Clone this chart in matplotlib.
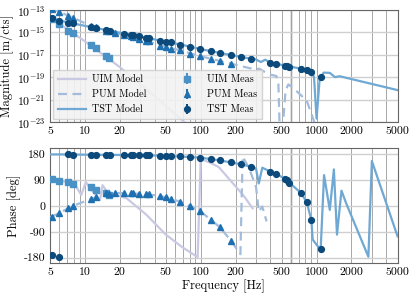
import numpy as np
import matplotlib
matplotlib.use("Agg")
import matplotlib.pyplot as plt
from matplotlib.ticker import NullFormatter, LogLocator

plt.rcParams['font.family'] = ['cmr10', 'DejaVu Serif']
plt.rcParams['mathtext.fontset'] = 'cm'
plt.rcParams['axes.unicode_minus'] = False
plt.rcParams['axes.formatter.use_mathtext'] = True

# ---------------- data ----------------
# Models: magnitude (log10 m/cts)
uim_mod_f = [5, 10, 20, 40, 80, 100]
uim_mod_mag = [-13.65, -15.8, -18.1, -20.7, -23.4, -24.2]

pum_mod_f = [5, 6, 7.2, 8, 11.2, 15, 20, 30, 44, 66, 98, 147, 183, 230, 264, 300, 320, 345, 394, 450, 468, 480, 510, 540, 570, 625, 822, 925, 990]
pum_mod_mag = [-12.8, -13.15, -13.52, -13.72, -14.42, -14.85, -15.15, -15.58, -16.15, -16.6, -17.12, -17.56, -17.8, -18.05, -18.2, -18.3, -18.25, -18.45, -18.77, -18.9, -19.6, -23.5, -23.5, -20.2, -19.65, -19.95, -21.1, -22.6, -23.5]

tst_mod_f = [5, 7, 10, 15, 20, 30, 50, 70, 100, 150, 200, 270, 300, 330, 360, 400, 550, 730, 900, 950, 1000, 1060, 1150, 1300, 1440, 1580, 1800, 5000]
tst_mod_mag = [-13.68, -14.1, -14.42, -14.78, -15.03, -15.38, -15.83, -16.13, -16.5, -16.86, -17.1, -17.36, -17.42, -17.65, -17.45, -17.7, -18.0, -18.24, -18.45, -19.0, -22.7, -19.3, -18.6, -18.62, -19.0, -18.92, -19.06, -20.16]

# Models: phase (deg)
uim_ph_f = [5, 7, 8.2, 9.3, 10.2, 11.1, 13.5, 14.2, 16, 20, 23, 34, 50, 70, 94, 100, 118, 143, 190, 232, 280]
uim_ph = [92, 84, 75, 38, 83, 61, 20, 72, 42, 34, 26, -31, -100, -145, -178, 163, 152, 135, 78, 38, -8]

pum_ph_f = [5, 6, 7.2, 8, 11, 15, 20, 30, 40, 50, 66, 80, 98, 122, 147, 183, 220, 230, 262, 300, 317, 340, 370]
pum_ph = [-40, -25, -8, 1, 22, 42, 45, 42, 37, 30, 15, 0, -17, -48, -75, -122, -168, 172, 130, 66, -20, -2, -54]

tst_ph_f = [5, 7, 10, 20, 35, 50, 66, 80, 98, 122, 147, 183, 222, 272, 300, 317, 340, 399, 450, 535, 580, 729, 822, 902, 925, 1030, 1085, 1160, 1300, 1410, 1500, 1640, 1800, 2800, 3000, 5000]
tst_ph = [179, 179, 178, 177, 176, 174, 172, 170, 168, 163, 158, 151, 145, 136, 130, 78, 133, 119, 111, 94, 81, 46, 13, -50, -117, -142, -149, 107, -14, 127, -100, 53, 9, -177, 156, -106]

# Measurements
uim_meas_f = [5.23, 6.0, 7.2, 7.85, 11.2, 12.4, 15.2, 16.0]
uim_meas_mag = [-13.8, -14.24, -14.84, -15.07, -16.1, -16.4, -17.14, -17.29]
uim_meas_ph = [92, 87, 82, 76, 67, 55, 45, 38]

pum_meas_f = [5.23, 6.0, 7.2, 7.85, 11.2, 12.4, 15.2, 16.0, 18.2, 21.8, 24.8, 26.2, 29.5, 34, 35.5, 44.4, 50, 55, 66, 80, 98, 122, 147, 183]
pum_meas_mag = [-12.9, -13.18, -13.55, -13.7, -14.45, -14.55, -14.85, -14.92, -15.04, -15.22, -15.34, -15.4, -15.6, -15.75, -15.8, -16.2, -16.35, -16.45, -16.6, -16.9, -17.14, -17.38, -17.58, -17.79]
pum_meas_ph = [-39, -25, -8, 0, 23, 30, 44, 43, 44, 44, 44, 44, 41, 40, 40, 34, 30, 25, 15, 0, -17, -49, -75, -123]

tst_meas_f = [5.23, 6.0, 7.2, 7.85, 11.2, 12.4, 15.2, 16.5, 21.8, 24.8, 26.2, 29.5, 34, 35.5, 44.4, 50, 55, 66, 80, 98, 122, 147, 183, 222, 272, 399, 450, 535, 555, 580, 729, 822, 902, 1085]
tst_meas_mag = [-13.75, -14.03, -14.13, -14.18, -14.52, -14.6, -14.78, -14.85, -15.12, -15.2, -15.28, -15.37, -15.5, -15.55, -15.75, -15.82, -15.9, -16.1, -16.3, -16.5, -16.68, -16.84, -17.04, -17.2, -17.36, -17.7, -17.8, -17.97, -18.0, -18.08, -18.24, -18.32, -18.5, -19.0]
tst_meas_ph = [-172, -177, 179, 178, 178, 178, 178, 178, 177, 177, 177, 176, 176, 176, 175, 174, 174, 172, 170, 168, 163, 158, 151, 145, 136, 119, 111, 94, 90, 81, 46, 13, -50, -149]

xticks = [5, 10, 20, 50, 100, 200, 500, 1000, 2000, 5000]
xticklabels = ['5', '10', '20', '50', '100', '200', '500', '1000', '2000', '5000']
mag_ticks = [1e-13, 1e-15, 1e-17, 1e-19, 1e-21, 1e-23]
mag_ticklabels = [r'$10^{-13}$', r'$10^{-15}$', r'$10^{-17}$', r'$10^{-19}$', r'$10^{-21}$', r'$10^{-23}$']
ph_ticks = [-180, -90, 0, 90, 180]
ph_ticklabels = ['-180', '-90', '0', '90', '180']

# ---------------- style ----------------
c_uim_mod = '#c9c9e3'
c_pum_mod = '#a3bcdc'
c_tst_mod = '#6fa8d3'
c_uim_meas = '#4a92c6'
c_pum_meas = '#1f70b0'
c_tst_meas = '#0b4a7a'

fig = plt.figure(figsize=(4.15, 3.01), dpi=100)
ax1 = fig.add_axes([0.1205, 0.595, 0.8375, 0.372])
ax2 = fig.add_axes([0.1205, 0.125, 0.8375, 0.382])

def p10(a):
    return 10.0 ** np.asarray(a, dtype=float)

lw = 1.6
ms = 4.2
ax1.plot(uim_mod_f, p10(uim_mod_mag), color=c_uim_mod, lw=lw, label='UIM Model', zorder=3)
ax1.plot(pum_mod_f, p10(pum_mod_mag), color=c_pum_mod, lw=lw, ls=(0, (4, 2.5)), label='PUM Model', zorder=3)
ax1.plot(tst_mod_f, p10(tst_mod_mag), color=c_tst_mod, lw=lw, label='TST Model', zorder=3)
ax1.errorbar(uim_meas_f, p10(uim_meas_mag), yerr=np.zeros(len(uim_meas_f)), fmt='s', ms=ms, color=c_uim_meas, label='UIM Meas', zorder=4)
ax1.errorbar(pum_meas_f, p10(pum_meas_mag), yerr=np.zeros(len(pum_meas_f)), fmt='^', ms=ms, color=c_pum_meas, label='PUM Meas', zorder=4)
ax1.errorbar(tst_meas_f, p10(tst_meas_mag), yerr=np.zeros(len(tst_meas_f)), fmt='o', ms=ms, color=c_tst_meas, label='TST Meas', zorder=4)

ax2.plot(uim_ph_f, uim_ph, color=c_uim_mod, lw=lw, zorder=3)
ax2.plot(pum_ph_f, pum_ph, color=c_pum_mod, lw=lw, ls=(0, (4, 2.5)), zorder=3)
ax2.plot(tst_ph_f, tst_ph, color=c_tst_mod, lw=lw, zorder=3)
ax2.errorbar(uim_meas_f, uim_meas_ph, yerr=np.zeros(len(uim_meas_f)), fmt='s', ms=ms, color=c_uim_meas, zorder=4)
ax2.errorbar(pum_meas_f, pum_meas_ph, yerr=np.zeros(len(pum_meas_f)), fmt='^', ms=ms, color=c_pum_meas, zorder=4)
ax2.errorbar(tst_meas_f, tst_meas_ph, yerr=np.zeros(len(tst_meas_f)), fmt='o', ms=ms, color=c_tst_meas, zorder=4)

for ax in (ax1, ax2):
    ax.set_xscale('log')
    ax.set_xlim(5, 5000)
    ax.set_xticks(xticks)
    ax.set_xticklabels(xticklabels)
    ax.xaxis.set_minor_locator(LogLocator(base=10, subs=np.arange(2, 10)))
    ax.xaxis.set_minor_formatter(NullFormatter())
    ax.grid(True, which='both', axis='x', color='#999999', lw=0.6, zorder=0)
    ax.grid(True, which='major', axis='y', color='#cfcfcf', lw=1.0, zorder=0)
    ax.axvline(600, color='#dedede', lw=2.0, zorder=0.5)
    ax.tick_params(which='both', length=0, labelsize=8.5, pad=3)
    for s in ax.spines.values():
        s.set_color('#666666')
        s.set_linewidth(0.8)
    ax.set_axisbelow(True)

ax1.set_yscale('log')
ax1.set_ylim(1e-23, 1e-13)
ax1.set_yticks(mag_ticks)
ax1.set_yticklabels(mag_ticklabels)
ax1.yaxis.set_minor_formatter(NullFormatter())
ax1.tick_params(axis='y', which='minor', length=0)
ax1.set_ylabel('Magnitude [m/cts]', fontsize=9, labelpad=2)

ax2.set_ylim(-200, 200)
ax2.set_yticks(ph_ticks)
ax2.set_yticklabels(ph_ticklabels)
ax2.set_ylabel('Phase [deg]', fontsize=9, labelpad=2)
ax2.set_xlabel('Frequency [Hz]', fontsize=9, labelpad=2)

leg = ax1.legend(loc='lower left', ncol=2, fontsize=7.3, frameon=True, fancybox=False,
                 borderaxespad=0.3, handlelength=2.8, columnspacing=2.6,
                 labelspacing=0.55, borderpad=0.45, handletextpad=0.6)
leg.get_frame().set_facecolor('#f2f2f2')
leg.get_frame().set_edgecolor('#d0d0d0')
leg.get_frame().set_alpha(0.9)
leg.set_zorder(5)

fig.savefig('out.png', dpi=100)
